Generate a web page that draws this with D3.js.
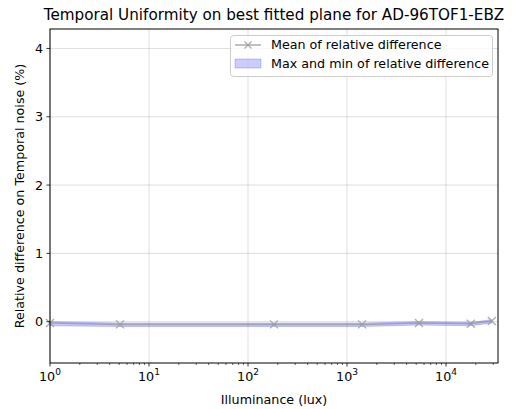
<!DOCTYPE html>
<html>
<head>
<meta charset="utf-8">
<script src="https://cdn.jsdelivr.net/npm/d3@7"></script>
<style>
  body { margin: 0; background: #fff; }
  svg { display: block; font-family: "DejaVu Sans", sans-serif; }
</style>
</head>
<body>
<svg id="chart" width="514" height="409"></svg>
<script>
// Illuminance levels (lux) and relative differences (%)
const illuminance = [1, 5.1, 183, 1420, 5330, 17800, 29000];
const meanDiff = [-0.02, -0.04, -0.04, -0.04, -0.02, -0.03, 0.01];
const maxDiff = [0.0, -0.02, -0.02, -0.02, 0.0, -0.01, 0.03];
const minDiff = [-0.06, -0.07, -0.07, -0.07, -0.05, -0.06, -0.02];
const yTicks = [0, 1, 2, 3, 4];
const xTicks = [1, 10, 100, 1000, 10000];

const FS = 12.7;
const svg = d3.select("#chart");
const m = { left: 50, right: 498, top: 29, bottom: 363 };

const x = d3.scaleLog().domain([1, 33500]).range([m.left, m.right]);
const y = d3.scaleLinear().domain([-0.605, 4.285]).range([m.bottom, m.top]);

// Grid
const grid = svg.append("g");
xTicks.forEach(t => grid.append("line")
  .attr("x1", x(t)).attr("x2", x(t)).attr("y1", m.top).attr("y2", m.bottom)
  .attr("stroke", "#b0b0b0").attr("stroke-opacity", 0.5).attr("stroke-width", 0.8));
yTicks.forEach(t => grid.append("line")
  .attr("x1", m.left).attr("x2", m.right).attr("y1", y(t)).attr("y2", y(t))
  .attr("stroke", "#b0b0b0").attr("stroke-opacity", 0.5).attr("stroke-width", 0.8));

const pts = illuminance.map((v, i) => ({ x: v, mean: meanDiff[i], max: maxDiff[i], min: minDiff[i] }));

// Min/max band
svg.append("path")
  .datum(pts)
  .attr("d", d3.area().x(d => x(d.x)).y0(d => y(d.min)).y1(d => y(d.max)))
  .attr("fill", "blue").attr("fill-opacity", 0.2).attr("stroke", "blue").attr("stroke-opacity", 0.2).attr("stroke-width", 1);

// Mean line
svg.append("path")
  .datum(pts)
  .attr("d", d3.line().x(d => x(d.x)).y(d => y(d.mean)))
  .attr("fill", "none").attr("stroke", "#999").attr("stroke-opacity", 0.8).attr("stroke-width", 1.5);

const cross = (g, cx, cy, s) => {
  g.append("path")
    .attr("d", `M${cx - s},${cy - s}L${cx + s},${cy + s}M${cx - s},${cy + s}L${cx + s},${cy - s}`)
    .attr("stroke", "#999").attr("stroke-opacity", 0.8).attr("stroke-width", 1.3).attr("fill", "none");
};
const marks = svg.append("g");
pts.forEach(d => cross(marks, x(d.x), y(d.mean), 4));

// Frame
svg.append("rect")
  .attr("x", m.left).attr("y", m.top)
  .attr("width", m.right - m.left).attr("height", m.bottom - m.top)
  .attr("fill", "none").attr("stroke", "#000").attr("stroke-width", 1);

// X axis
const xAxis = svg.append("g").attr("transform", `translate(0,${m.bottom})`);
const minor = [];
for (let e = 0; e < 5; e++) for (let k = 2; k <= 9; k++) {
  const v = k * Math.pow(10, e);
  if (v <= 33500) minor.push(v);
}
minor.forEach(v => xAxis.append("line").attr("x1", x(v)).attr("x2", x(v)).attr("y1", 0).attr("y2", 2).attr("stroke", "#000").attr("stroke-width", 0.6));
xTicks.forEach((t, i) => {
  xAxis.append("line").attr("x1", x(t)).attr("x2", x(t)).attr("y1", 0).attr("y2", 3.5).attr("stroke", "#000").attr("stroke-width", 0.8);
  const txt = xAxis.append("text").attr("x", x(t)).attr("y", 18).attr("text-anchor", "middle")
    .attr("font-size", FS).attr("fill", "#000");
  txt.append("tspan").text("10");
  txt.append("tspan").attr("dy", -6).attr("font-size", 9).text(i);
});
svg.append("text").attr("x", (m.left + m.right) / 2).attr("y", 404).attr("text-anchor", "middle")
  .attr("font-size", FS).text("Illuminance (lux)");

// Y axis
const yAxis = svg.append("g");
yTicks.forEach(t => {
  yAxis.append("line").attr("x1", m.left - 3.5).attr("x2", m.left).attr("y1", y(t)).attr("y2", y(t)).attr("stroke", "#000").attr("stroke-width", 0.8);
  yAxis.append("text").attr("x", m.left - 7).attr("y", y(t)).attr("dy", "0.35em").attr("text-anchor", "end")
    .attr("font-size", FS).text(t);
});
svg.append("text").attr("transform", `translate(24,${(m.top + m.bottom) / 2}) rotate(-90)`)
  .attr("text-anchor", "middle").attr("font-size", FS)
  .text("Relative difference on Temporal noise (%)");

// Title
svg.append("text").attr("x", (m.left + m.right) / 2).attr("y", 20).attr("text-anchor", "middle")
  .attr("font-size", 15.2).text("Temporal Uniformity on best fitted plane for AD-96TOF1-EBZ");

// Legend
const lg = svg.append("g");
lg.append("rect").attr("x", 230.5).attr("y", 35.5).attr("width", 262).attr("height", 41).attr("rx", 3)
  .attr("fill", "#fff").attr("fill-opacity", 0.8).attr("stroke", "#ccc").attr("stroke-width", 1);
lg.append("line").attr("x1", 235).attr("x2", 261).attr("y1", 45).attr("y2", 45)
  .attr("stroke", "#999").attr("stroke-opacity", 0.8).attr("stroke-width", 1.5);
cross(lg, 248, 45, 3.5);
lg.append("text").attr("x", 271).attr("y", 45).attr("dy", "0.35em").attr("font-size", FS).text("Mean of relative difference");
lg.append("rect").attr("x", 235).attr("y", 59).attr("width", 26).attr("height", 9)
  .attr("fill", "blue").attr("fill-opacity", 0.2).attr("stroke", "blue").attr("stroke-opacity", 0.2);
lg.append("text").attr("x", 271).attr("y", 63.5).attr("dy", "0.35em").attr("font-size", FS).text("Max and min of relative difference");
</script>
</body>
</html>
